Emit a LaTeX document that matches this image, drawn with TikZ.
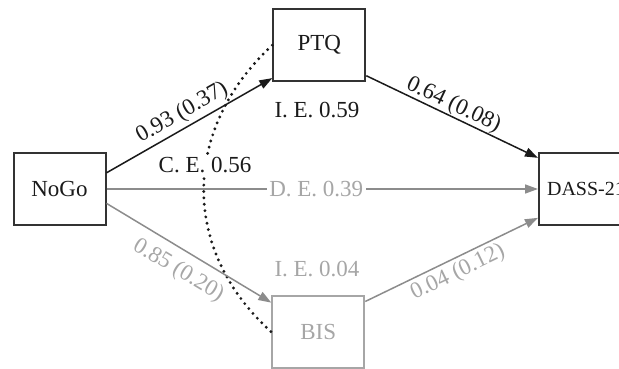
\documentclass[tikz,border=0pt]{standalone}
\usepackage{fontspec}
\setmainfont{Liberation Serif}
\usetikzlibrary{arrows.meta}
\definecolor{ink}{HTML}{1A1A1A}
\definecolor{boxink}{HTML}{333333}
\definecolor{greyline}{HTML}{8C8C8C}
\definecolor{greytext}{HTML}{A6A6A6}
\tikzset{
  var/.style={draw=boxink, line width=2pt, minimum width=92pt, minimum height=72pt,
              inner sep=0pt, font=\fontsize{23}{25}\selectfont, text=ink},
  weakvar/.style={var, draw=greytext, text=greytext},
  effpath/.style={draw=ink, line width=1.5pt, -{Triangle[length=13pt,width=9pt]}},
  weakpath/.style={effpath, draw=greyline},
  lab/.style={font=\fontsize{23}{25}\selectfont, text=ink},
  weaklab/.style={lab, text=greytext},
  corr/.style={draw=ink, line width=3.2pt, line cap=round, dash pattern=on 0pt off 6.4pt}
}
\begin{document}
\begin{tikzpicture}[x=1pt, y=-1pt]
  \useasboundingbox (0,0) rectangle (619,369);
  \clip (0,0) rectangle (619,369);

  % variables
  \node[var] (nogo) at (59.5,189) {NoGo};
  \node[var] (ptq) at (319.3,45.2) {PTQ};
  \node[weakvar] (bis) at (318.3,332) {BIS};
  \node[var, minimum width=94pt, font=\fontsize{20}{22}\selectfont] (dass) at (586,189) {DASS-21};

  % covariance between the mediators
  \draw[corr] (ptq.west) .. controls (181,130) and (181,250) .. (bis.west);

  % effect labels
  \node[lab] (ie1) at (317,110) {I. E. 0.59};
  \node[lab, fill=white, inner sep=1pt] (ce) at (205,165) {C. E. 0.56};
  \node[weaklab] (ie2) at (317,269) {I. E. 0.04};

  % paths through BIS and the direct path
  \draw[weakpath] (nogo.-17) -- node[weaklab, sloped, below=6pt, pos=0.5] (a2) {0.85 (0.20)} (bis.148);
  \draw[weakpath] (bis.33) -- node[weaklab, sloped, below, pos=0.5] (b2) {0.04 (0.12)} (dass.211);
  \draw[weakpath] (nogo.east) -- node[weaklab, fill=white, inner sep=2.5pt, pos=0.486] (de) {D. E. 0.39} (dass.west);

  % paths through PTQ
  \draw[effpath] (nogo.19) -- node[lab, sloped, above, pos=0.5] (a1) {0.93 (0.37)} (ptq.215);
  \draw[effpath] (ptq.-33) -- node[lab, sloped, above, inner sep=0pt, pos=0.48] (b1) {0.64 (0.08)} (dass.147);
\end{tikzpicture}
\end{document}
